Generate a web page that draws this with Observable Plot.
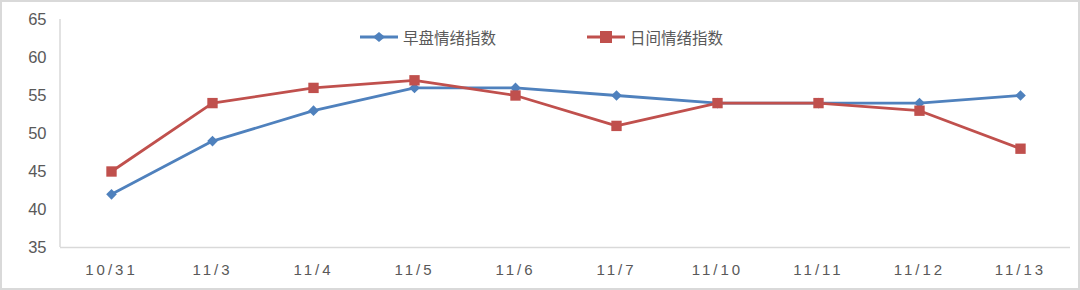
<!DOCTYPE html>
<html>
<head>
<meta charset="utf-8">
<script src="https://cdn.jsdelivr.net/npm/d3@7"></script>
<script src="https://cdn.jsdelivr.net/npm/@observablehq/plot@0.6"></script>
<style>
  html, body { margin: 0; padding: 0; background: #fff; }
  #wrap { position: relative; width: 1080px; height: 290px; overflow: hidden; }
  #frame { position: absolute; left: 0; top: 0; width: 1076px; height: 286px; border: 2px solid #d9d9d9; pointer-events: none; }
  #legend { position: absolute; top: 26px; left: 0; width: 1080px; height: 22px; font-family: "Noto Sans CJK SC", sans-serif; font-size: 15.5px; color: #595959; }
  .item { position: absolute; display: flex; align-items: center; top: 0; height: 22px; }
  .item svg { margin-right: 5px; }
</style>
</head>
<body>
<div id="wrap">
  <div id="chart"></div>
  <div id="legend"></div>
  <div id="frame"></div>
</div>
<script>
const dates = ["10/31", "11/3", "11/4", "11/5", "11/6", "11/7", "11/10", "11/11", "11/12", "11/13"];
const morning = [42, 49, 53, 56, 56, 55, 54, 54, 54, 55];
const daytime = [45, 54, 56, 57, 55, 51, 54, 54, 53, 48];
const seriesNames = ["早盘情绪指数", "日间情绪指数"];
const seriesColors = ["#4F81BD", "#C0504D"];
const yTicks = [35, 40, 45, 50, 55, 60, 65];

const rowsM = dates.map((d, i) => ({date: d, value: morning[i]}));
const rowsD = dates.map((d, i) => ({date: d, value: daytime[i]}));

const chart = Plot.plot({
  width: 1080,
  height: 290,
  marginLeft: 60,
  marginRight: 10,
  marginTop: 19,
  marginBottom: 43,
  style: {fontFamily: "'Liberation Sans', sans-serif", color: "#595959", background: "transparent"},
  x: {type: "point", domain: dates, padding: 0.5, label: null},
  y: {domain: [35, 65], label: null},
  marks: [
    Plot.axisX({tickSize: 0, tickPadding: 17, fontSize: 15, fill: "#595959"}),
    Plot.axisY({ticks: yTicks, tickSize: 0, tickPadding: 14, fontSize: 16.5, fill: "#595959"}),
    Plot.ruleY([35], {stroke: "#d9d9d9", strokeWidth: 1.5}),
    Plot.lineY(rowsM, {x: "date", y: "value", stroke: seriesColors[0], strokeWidth: 2.8}),
    Plot.lineY(rowsD, {x: "date", y: "value", stroke: seriesColors[1], strokeWidth: 2.8}),
    Plot.dot(rowsM, {x: "date", y: "value", symbol: "diamond2", r: 4.8, fill: seriesColors[0], stroke: "none"}),
    Plot.dot(rowsD, {x: "date", y: "value", symbol: "square2", r: 6.6, fill: seriesColors[1], stroke: "none"})
  ]
});
document.getElementById("chart").appendChild(chart);

const svg = d3.select(chart);
// wide letter spacing on x tick labels
svg.selectAll('g[aria-label="x-axis tick label"] text')
  .style("letter-spacing", "3px");

// y axis line along the left of the plot area
const yScale = chart.scale("y");
svg.append("line")
  .attr("x1", 60).attr("x2", 60)
  .attr("y1", yScale.apply(65)).attr("y2", yScale.apply(35))
  .attr("stroke", "#d9d9d9").attr("stroke-width", 1.5);

// legend
const legend = document.getElementById("legend");
const positions = [360, 587];
seriesNames.forEach((name, i) => {
  const item = document.createElement("div");
  item.className = "item";
  item.style.left = positions[i] + "px";
  const marker = i === 0
    ? `<path d="M19 2 L25 7 L19 12 L13 7 Z" fill="${seriesColors[i]}"/>`
    : `<rect x="13" y="1" width="12" height="12" fill="${seriesColors[i]}"/>`;
  item.innerHTML = `<svg width="38" height="14"><line x1="0" x2="38" y1="7" y2="7" stroke="${seriesColors[i]}" stroke-width="2.8"/>${marker}</svg><span>${name}</span>`;
  legend.appendChild(item);
});
</script>
</body>
</html>
